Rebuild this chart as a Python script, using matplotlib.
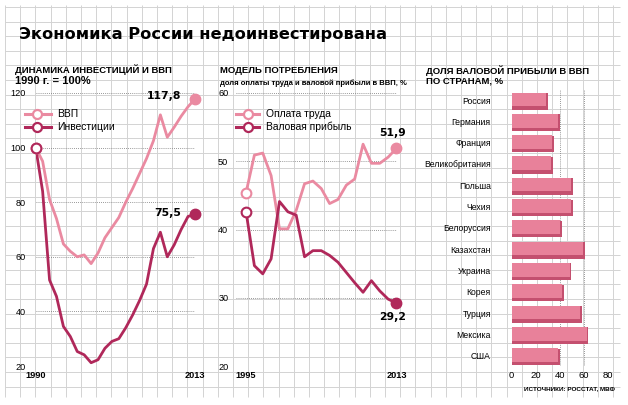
import numpy as np
import matplotlib.pyplot as plt
from matplotlib.patches import Rectangle

plt.rcParams['font.family'] = ['Liberation Sans', 'DejaVu Sans']

# --- данные ---
years1 = list(range(1990, 2014))
gdp = [100, 95, 81, 74, 64.7, 62, 60, 60.7, 57.5, 61.4, 67, 70.7, 74.4, 80, 85, 90.5,
       96, 102.5, 112, 103.8, 107.5, 111.5, 115, 117.8]
invest = [100, 84, 51.5, 45.5, 34.5, 30.8, 25.3, 24.1, 21.2, 22.3, 26.5, 29, 30, 34,
          38.7, 44, 50, 63, 69, 60, 64.4, 70, 74.8, 75.5]

years2 = list(range(1995, 2014))
labor = [45.4, 50.9, 51.2, 47.9, 40.1, 40.1, 42.8, 46.7, 47.1, 46.0, 43.8, 44.4, 46.5,
         47.4, 52.5, 49.7, 49.7, 50.6, 51.9]
profit = [42.6, 34.7, 33.5, 35.7, 44.1, 42.6, 42.1, 36.0, 36.9, 36.9, 36.2, 35.2, 33.7,
          32.2, 30.8, 32.5, 31.0, 29.8, 29.2]

countries = ['Россия', 'Германия', 'Франция', 'Великобритания', 'Польша', 'Чехия',
             'Белоруссия', 'Казахстан', 'Украина', 'Корея', 'Турция', 'Мексика', 'США']
shares = [30, 40, 35, 34, 51, 50.5, 41.5, 60.5, 49.5, 43.5, 58, 63.5, 40]

light = '#ea8aa1'
dark = '#b0285a'
barc = '#e8819a'
bar_dark = '#c4506f'

W, H = 628, 405
fig = plt.figure(figsize=(W / 100, H / 100), dpi=100)


def box(x0, y0, x1, y1):
    # пиксели (сверху вниз) -> доли фигуры
    return [x0 / W, (H - y1) / H, (x1 - x0) / W, (y1 - y0) / H]


# фон "в клетку"
bg = fig.add_axes([0, 0, 1, 1], zorder=0)
bg.set_xlim(0, W)
bg.set_ylim(H, 0)
bg.axis('off')
bg.vlines(np.arange(5, 622, 15.2), 5, 397, color='#d3d3d3', lw=0.7)
bg.hlines(np.arange(7, 398, 14.6), 5, 620, color='#d3d3d3', lw=0.7)
bg.add_patch(Rectangle((13, 13), 601, 42, color='white'))
bg.text(19, 35, 'Экономика России недоинвестирована', fontsize=11.7,
        fontweight='heavy', family='DejaVu Sans', va='center')

bg.text(15, 70, 'ДИНАМИКА ИНВЕСТИЦИЙ И ВВП', fontsize=6.8, fontweight='bold', va='center')
bg.text(15, 80.5, '1990 г. = 100%', fontsize=8, fontweight='bold', va='center')
bg.text(220, 70.5, 'МОДЕЛЬ ПОТРЕБЛЕНИЯ', fontsize=6.8, fontweight='bold', va='center')
bg.text(220, 83, 'доля оплаты труда и валовой прибыли в ВВП, %', fontsize=5.5,
        fontweight='bold', va='center')
bg.text(426, 70.5, 'ДОЛЯ ВАЛОВОЙ ПРИБЫЛИ В ВВП', fontsize=6.8, fontweight='bold', va='center')
bg.text(426, 81, 'ПО СТРАНАМ, %', fontsize=6.8, fontweight='bold', va='center')
bg.text(615, 389, 'ИСТОЧНИКИ: РОССТАТ, МВФ', fontsize=4.6, fontweight='bold',
        ha='right', va='center')

# легенды
for (x0, x1, xm, xt), labels, cols in [((25, 51, 37, 57.5), ['ВВП', 'Инвестиции'], [light, dark]),
                                         ((235.5, 258.5, 247.5, 266.5), ['Оплата труда', 'Валовая прибыль'], [light, dark])]:
    for yy, lab, c in zip([114.3, 127], labels, cols):
        bg.plot([x0, x1], [yy, yy], color=c, lw=2.2)
        bg.plot([xm], [yy], 'o', ms=6.5, mfc='white', mec=c, mew=1.6)
        bg.text(xt, yy, lab, fontsize=7.4, va='center')


def line_panel(ax, x, a, b, yticks, xlim):
    ax.set_facecolor('none')
    for s in ax.spines.values():
        s.set_visible(False)
    for y, c in [(a, light), (b, dark)]:
        ax.plot(x, y, color=c, lw=2.0, zorder=3, solid_joinstyle='round')
        ax.plot(x[0], y[0], 'o', ms=7, mfc='white', mec=c, mew=1.5, zorder=4, clip_on=False)
        ax.plot(x[-1], y[-1], 'o', ms=7.5, color=c, zorder=4, clip_on=False)
    ax.set_ylim(yticks[0], yticks[-1])
    ax.set_xlim(*xlim)
    ax.set_yticks(yticks)
    ax.set_xticks([x[0], x[-1]])
    ax.tick_params(length=0, labelsize=6.6)
    ax.tick_params(axis='x', pad=3.5)
    for t in ax.get_xticklabels():
        t.set_fontweight('bold')
    ax.yaxis.grid(True, linestyle=(0, (1, 1.5)), color='#777777', lw=0.6)


ax1 = fig.add_axes(box(35.7, 93, 195, 366), zorder=1)
line_panel(ax1, years1, gdp, invest, [20, 40, 60, 80, 100, 120], (1990, 2013))
ax1.tick_params(axis='y', pad=7)
ax1.annotate('117,8', (years1[-1], gdp[-1]), xytext=(-10, 2), textcoords='offset points',
             ha='right', va='center', fontsize=7.8, fontweight='bold', family='DejaVu Sans')
ax1.annotate('75,5', (years1[-1], invest[-1]), xytext=(-10, 1), textcoords='offset points',
             ha='right', va='center', fontsize=7.8, fontweight='bold', family='DejaVu Sans')

ax2 = fig.add_axes(box(236, 93, 396.5, 366), zorder=1)
line_panel(ax2, years2, labor, profit, [20, 30, 40, 50, 60], (1993.8, 2013))
ax2.tick_params(axis='y', pad=5.5)
ax2.annotate('51,9', (years2[-1], labor[-1]), xytext=(-3, 11), textcoords='offset points',
             ha='center', va='center', fontsize=7.8, fontweight='bold', family='DejaVu Sans')
ax2.annotate('29,2', (years2[-1], profit[-1]), xytext=(-3, -10), textcoords='offset points',
             ha='center', va='center', fontsize=7.8, fontweight='bold', family='DejaVu Sans')

# столбики
ax3 = fig.add_axes(box(511.7, 90, 608.3, 366), zorder=1)
ax3.set_facecolor('none')
for s in ax3.spines.values():
    s.set_visible(False)
pos = np.arange(len(countries))
ax3.barh(pos + 0.06, shares, height=0.78, color=bar_dark, zorder=2)
ax3.barh(pos - 0.03, [v - 1.5 for v in shares], height=0.64, color=barc, zorder=3)
ax3.set_ylim(12.48, -0.47)
ax3.set_xlim(0, 80)
ax3.set_yticks(pos)
ax3.set_yticklabels(countries)
ax3.set_xticks([0, 20, 40, 60, 80])
ax3.tick_params(length=0, labelsize=6.2)
ax3.tick_params(axis='x', labelsize=6.8, pad=3.5)
ax3.tick_params(axis='y', pad=15)
for v in [40, 60, 80]:
    ax3.axvline(v, linestyle=(0, (1, 1.5)), color='#777777', lw=0.6, zorder=1)

fig.savefig('out.png', dpi=100)
